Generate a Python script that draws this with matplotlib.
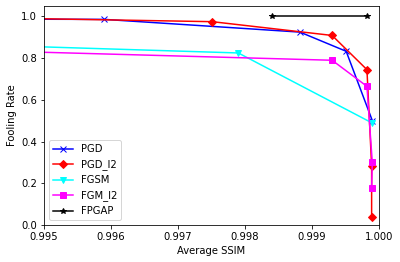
import matplotlib

matplotlib.use("Agg")
import matplotlib.pyplot as plt

# values (first points of some series sit left of the view)
pgd_x = [0.9930, 0.9959, 0.99882, 0.99951, 0.99990]
pgd_y = [0.988, 0.986, 0.925, 0.833, 0.501]

pgd_l2_x = [0.9930, 0.99751, 0.99930, 0.99982, 0.99989, 0.99989]
pgd_l2_y = [1.000, 0.975, 0.909, 0.745, 0.284, 0.040]

fgsm_x = [0.9930, 0.9979, 0.99990]
fgsm_y = [0.874, 0.825, 0.489]

fgm_l2_x = [0.9930, 0.99930, 0.99982, 0.99990, 0.99989]
fgm_l2_y = [0.846, 0.790, 0.665, 0.300, 0.180]

fpgap_x = [0.99841, 0.99982]
fpgap_y = [1.0, 1.0]

dpi = 72
fig = plt.figure(figsize=(400 / dpi, 262 / dpi), dpi=dpi)
ax = fig.add_axes([0.11, 0.141, 0.8375, 0.836])

ax.plot(pgd_x, pgd_y, color="blue", marker="x", label="PGD")
ax.plot(pgd_l2_x, pgd_l2_y, color="red", marker="D", label="PGD_l2")
ax.plot(fgsm_x, fgsm_y, color="cyan", marker="v", label="FGSM")
ax.plot(fgm_l2_x, fgm_l2_y, color="magenta", marker="s", label="FGM_l2")
ax.plot(fpgap_x, fpgap_y, color="black", marker="*", label="FPGAP")

ax.set_xlim(0.995, 1.0)
ax.set_ylim(0.0, 1.05)
ax.set_xticks([0.995, 0.996, 0.997, 0.998, 0.999, 1.000])
ax.set_xticklabels(["0.995", "0.996", "0.997", "0.998", "0.999", "1.000"])
ax.set_xlabel("Average SSIM")
ax.set_ylabel("Fooling Rate")
ax.legend(loc="lower left")

plt.savefig("out.png", dpi=dpi)
plt.close()
